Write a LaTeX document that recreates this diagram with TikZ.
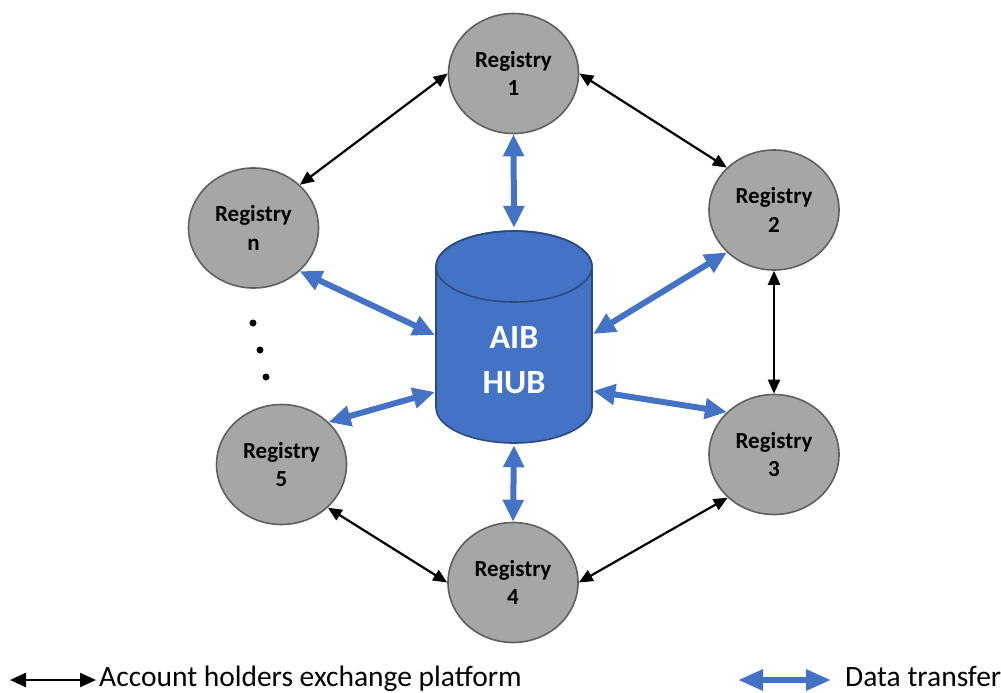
\documentclass[tikz,border=0pt]{standalone}
\usepackage{fontspec}
\setmainfont{Carlito}
\usetikzlibrary{shapes.geometric,arrows.meta}
\definecolor{regfill}{HTML}{A6A6A6}
\definecolor{regline}{HTML}{5F5F5F}
\definecolor{hubblue}{HTML}{4472C4}
\definecolor{hubline}{HTML}{2A4A82}
\begin{document}
\begin{tikzpicture}[x=1pt,y=-1pt,
  reg/.style={ellipse, draw=regline, line width=1.6pt, fill=regfill,
    minimum width=130pt, minimum height=120pt, inner sep=0pt, align=center,
    font=\fontsize{23}{28.5}\selectfont\bfseries},
  blk/.style={{Triangle[length=14pt,width=12pt]}-{Triangle[length=14pt,width=12pt]}, line width=2.2pt, black},
  blu/.style={{Triangle[length=22pt,width=20pt]}-{Triangle[length=22pt,width=20pt]}, line width=6pt, hubblue},
  legblk/.style={{Triangle[length=16pt,width=14pt]}-{Triangle[length=16pt,width=14pt]}, line width=2.4pt, black},
  legblu/.style={{Triangle[length=25pt,width=20pt]}-{Triangle[length=25pt,width=20pt]}, line width=6pt, hubblue},
  legtext/.style={anchor=base west, inner sep=0pt, font=\fontsize{29.5}{34}\selectfont}
]
\useasboundingbox (0,0) rectangle (1001,693);

% registries
\node[reg] (r1) at (513.5,73.5) {Registry\\1};
\node[reg] (r2) at (774,210) {Registry\\2};
\node[reg] (r3) at (774,454.5) {Registry\\3};
\node[reg] (r4) at (513,582.5) {Registry\\4};
\node[reg] (r5) at (281.5,464.5) {Registry\\5};
\node[reg] (rn) at (253.5,228) {Registry\\n};

% hub
\node[minimum width=156pt, minimum height=212pt, inner sep=0pt] (hub) at (514,337) {};
\filldraw[fill=hubblue, draw=hubline, line width=1.6pt]
  (436,266.5) -- (436,407.5)
  arc[start angle=180, end angle=360, x radius=78pt, y radius=35.5pt]
  -- (592,266.5)
  arc[start angle=0, end angle=180, x radius=78pt, y radius=35.5pt] -- cycle;
\draw[draw=hubline, line width=1.6pt] (514,266.5) ellipse[x radius=78pt, y radius=35.5pt];
\node[text=white, font=\fontsize{34}{45}\selectfont\bfseries, align=center] (hubtext) at (514,360) {AIB\\HUB};

\coordinate (hubtop) at ([yshift=3pt]hub.north);
\coordinate (hubbot) at ([yshift=-2pt]hub.south);
\coordinate (hubL1) at ([shift={(-1pt,2pt)}]hub.west);
\coordinate (hubL2) at ([shift={(-1pt,-55pt)}]hub.west);
\coordinate (hubR1) at ([shift={(1pt,3pt)}]hub.east);
\coordinate (hubR2) at ([shift={(1pt,-54pt)}]hub.east);

% black connectors
\draw[blk] (r1.west) -- (rn.43);
\draw[blk] (r1.east) -- (r2.138);
\draw[blk] (r2.south) -- (r3.north);
\draw[blk] (r3.223) -- (r4.east);
\draw[blk] (r5.-43) -- (r4.west);

% blue connectors
\draw[blu] (r1.south) -- (hubtop);
\draw[blu] (hubbot) -- (r4.north);
\draw[blu] (rn.-43) -- (hubL1);
\draw[blu] (hubR1) -- (r2.222);
\draw[blu] (hubR2) -- (r3.138);
\draw[blu] (hubL2) -- (r5.42);

% dots
\fill (253,323) circle[radius=3.5pt];
\fill (260,350) circle[radius=3.5pt];
\fill (266,377) circle[radius=3.5pt];

% legend
\coordinate (la1) at (10,680);
\coordinate (la2) at (96,680);
\draw[legblk] (la1) -- (la2);
\node[legtext] (lt1) at (99,686) {Account holders exchange platform};
\coordinate (lb1) at (738,680);
\coordinate (lb2) at (831,680);
\draw[legblu] (lb1) -- (lb2);
\node[legtext] (lt2) at (845,686) {Data transfer};
\end{tikzpicture}
\end{document}
